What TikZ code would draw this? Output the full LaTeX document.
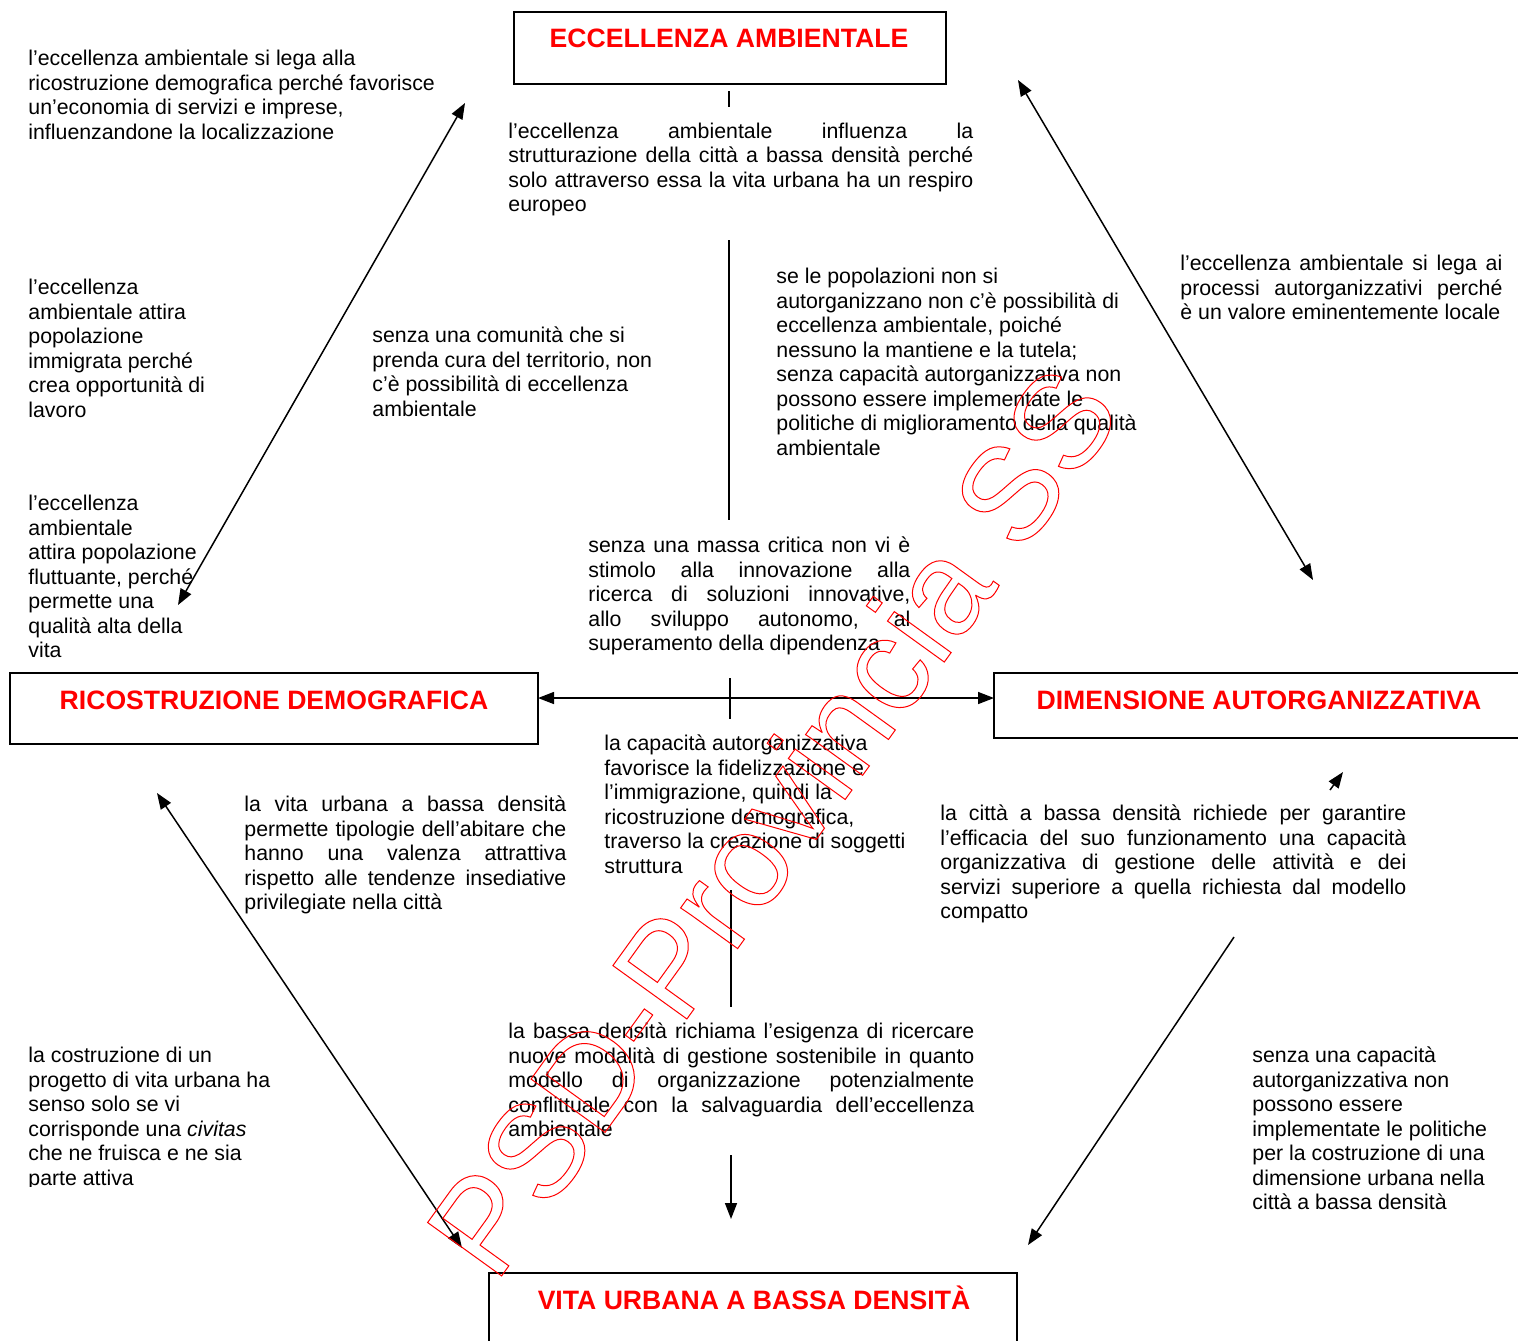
\documentclass[tikz,border=0pt]{standalone}
\usepackage{fontspec}
\setmainfont{Liberation Sans}
\usetikzlibrary{arrows.meta}
\newcommand\jl[2]{\makebox[#1][s]{#2}}
\begin{document}
\begin{tikzpicture}[x=0.5pt,y=-0.5pt,
  box/.style={draw=black, line width=1pt, inner sep=0, outer sep=0},
  title/.style={text=red, font=\fontsize{13.3}{15}\selectfont\bfseries, inner sep=0, anchor=base},
  txt/.style={font=\fontsize{10.66}{12.25}\selectfont, inner sep=0, anchor=base west, align=left},
  con/.style={line width=0.75pt},
  arr/.style={con, -{Triangle[length=8pt,width=6pt]}},
  darr/.style={con, {Triangle[length=8pt,width=6pt]}-{Triangle[length=8pt,width=6pt]}}]
\useasboundingbox (0,0) rectangle (1518,1340);
\fill[white] (0,0) rectangle (1518,1340);

% boxes
\node[box, minimum width=216pt, minimum height=36pt] (T) at (729.5,48) {};
\node[box, minimum width=264pt, minimum height=35.5pt] (L) at (274,708.5) {};
\node[box, minimum width=268pt, minimum height=32.5pt] (R) at (1262,705.5) {};
\node[box, minimum width=264pt, minimum height=38.5pt] (B) at (753,1311.5) {};

\node[title] (Tt) at (729,47) {ECCELLENZA AMBIENTALE};
\node[title] (Lt) at (274,709) {RICOSTRUZIONE DEMOGRAFICA};
\node[title] (Rt) at (1259,709) {DIMENSIONE AUTORGANIZZATIVA};
\node[title] (Bt) at (754,1309) {VITA URBANA A BASSA DENSITÀ};

% texts (anchor = baseline of the last line)
\node[txt] (t1) at (28,139) {l’eccellenza ambientale si lega alla\\ricostruzione demografica perché favorisce\\un’economia di servizi e imprese,\\influenzandone la localizzazione};
\node[txt] (t2) at (508,211.5) {\jl{232.5pt}{l’eccellenza ambientale influenza la}\\\jl{232.5pt}{strutturazione della città a bassa densità perché}\\\jl{232.5pt}{solo attraverso essa la vita urbana ha un respiro}\\europeo};
\node[txt] (t3) at (28,417) {l’eccellenza\\ambientale attira\\popolazione\\immigrata perché\\crea opportunità di\\lavoro};
\node[txt] (t4) at (372,416) {senza una comunità che si\\prenda cura del territorio, non\\c’è possibilità di eccellenza\\ambientale};
\node[txt] (t5) at (776,455) {se le popolazioni non si\\autorganizzano non c’è possibilità di\\eccellenza ambientale, poiché\\nessuno la mantiene e la tutela;\\senza capacità autorganizzativa non\\possono essere implementate le\\politiche di miglioramento della qualità\\ambientale};
\node[txt] (t6) at (1180,319.5) {\jl{161pt}{l’eccellenza ambientale si lega ai}\\\jl{161pt}{processi autorganizzativi perché}\\è un valore eminentemente locale};
\node[txt] (t7) at (28,657.5) {l’eccellenza\\ambientale\\attira popolazione\\fluttuante, perché\\permette una\\qualità alta della\\vita};
\node[txt] (t8) at (588,650.5) {\jl{161pt}{senza una massa critica non vi è}\\\jl{161pt}{stimolo alla innovazione alla}\\\jl{161pt}{ricerca di soluzioni innovative,}\\\jl{161pt}{allo sviluppo autonomo, al}\\superamento della dipendenza};
\node[txt] (t9) at (604,873) {la capacità autorganizzativa\\favorisce la fidelizzazione e\\l’immigrazione, quindi la\\ricostruzione demografica,\\traverso la creazione di soggetti\\struttura};
\node[txt] (t10) at (244,909.5) {\jl{161pt}{la vita urbana a bassa densità}\\\jl{161pt}{permette tipologie dell’abitare che}\\\jl{161pt}{hanno una valenza attrattiva}\\\jl{161pt}{rispetto alle tendenze insediative}\\privilegiate nella città};
\node[txt] (t11) at (940,918.5) {\jl{233pt}{la città a bassa densità richiede per garantire}\\\jl{233pt}{l’efficacia del suo funzionamento una capacità}\\\jl{233pt}{organizzativa di gestione delle attività e dei}\\\jl{233pt}{servizi superiore a quella richiesta dal modello}\\compatto};
\node[txt] (t12) at (508,1136.5) {\jl{233pt}{la bassa densità richiama l’esigenza di ricercare}\\\jl{233pt}{nuove modalità di gestione sostenibile in quanto}\\\jl{233pt}{modello di organizzazione potenzialmente}\\\jl{233pt}{conflittuale con la salvaguardia dell’eccellenza}\\ambientale};
\begin{scope}
\clip (0,1030) rectangle (320,1186);
\node[txt] (t13) at (28,1185) {la costruzione di un\\progetto di vita urbana ha\\senso solo se vi\\corrisponde una \textit{civitas}\\che ne fruisca e ne sia\\parte attiva};
\end{scope}
\node[txt] (t14) at (1252,1209.5) {senza una capacità\\autorganizzativa non\\possono essere\\implementate le politiche\\per la costruzione di una\\dimensione urbana nella\\città a bassa densità};

% connector end points
\coordinate (k1a) at (729,91);   \coordinate (k1b) at (729,107);
\coordinate (v1a) at (729,240);  \coordinate (v1b) at (729,520);
\coordinate (hy) at (0,698);
\coordinate (k2a) at (730,678);  \coordinate (k2b) at (730,719);
\coordinate (v2a) at (731,890);  \coordinate (v2b) at (731,1007);
\coordinate (v3a) at (731,1155); \coordinate (v3b) at (731,1219);
\coordinate (a1s) at (465,103);  \coordinate (a1e) at (178,605);
\coordinate (a2s) at (1018,80);  \coordinate (a2e) at (1313,580);
\coordinate (a3s) at (157,793);  \coordinate (a3e) at (462,1248);
\coordinate (a4s) at (1234,937); \coordinate (a4e) at (1028,1245);
\coordinate (a5s) at (1330,790); \coordinate (a5e) at (1343,772);

\draw[con] (k1a) -- (k1b);
\draw[con] (v1a) -- (v1b);
\draw[darr] (L.east |- hy) -- (R.west |- hy);
\draw[con] (k2a) -- (k2b);
\draw[con] (v2a) -- (v2b);
\draw[arr] (v3a) -- (v3b);
\draw[darr] (a1s) -- (a1e);
\draw[darr] (a2s) -- (a2e);
\draw[darr] (a3s) -- (a3e);
\draw[arr] (a4s) -- (a4e);
\draw[arr] (a5s) -- (a5e);

% watermark
\node[rotate=54.2, anchor=base west, inner sep=0, font=\fontsize{66.3}{66.3}\selectfont] (wm) at (495,1285)
  {\special{pdf:literal direct 1 Tr 1 0 0 RG 0.5 w}PSD-Provincia SS\special{pdf:literal direct 0 Tr}};
\end{tikzpicture}
\end{document}
